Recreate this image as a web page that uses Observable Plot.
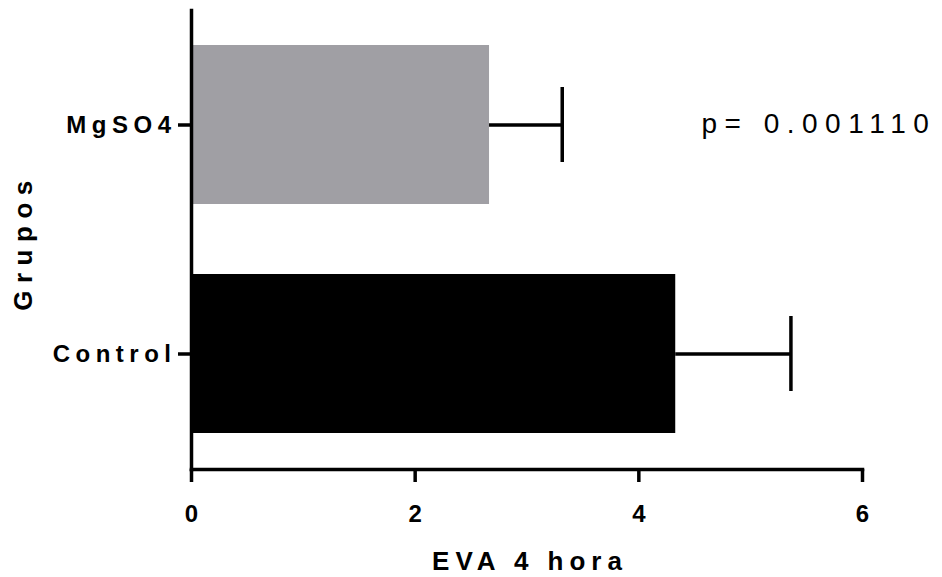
<!DOCTYPE html>
<html>
<head>
<meta charset="utf-8">
<script src="https://cdn.jsdelivr.net/npm/d3@7"></script>
<script src="https://cdn.jsdelivr.net/npm/@observablehq/plot@0.6"></script>
<style>
  body { margin: 0; background: #fff; }
  #chart svg { display: block; }
  g[aria-label="y-axis tick label"] text { letter-spacing: 5.5px; }
</style>
</head>
<body>
<div id="chart"></div>
<script>
// Pain score (EVA) at 4 hours, mean and SD by group
const groups = ["MgSO4", "Control"];
const means = [2.665, 4.33];
const sds = [0.65, 1.03];
const barColors = ["#a09fa4", "#000000"];
const xTicks = [0, 2, 4, 6];
const xTitle = "EVA 4 hora";
const yTitle = "Grupos";
const pValueText = "p= 0.001110";
const pValueX = 4.56; // where the p-value note starts, in EVA units

const rows = groups.map((g, i) => ({
  group: g,
  mean: means[i],
  upper: means[i] + sds[i]
}));

const font = "'Liberation Sans', Arial, Helvetica, sans-serif";
const lw = 3.5;

const chart = Plot.plot({
  width: 942,
  height: 577,
  marginLeft: 191,
  marginRight: 80,
  marginTop: 10,
  marginBottom: 108,
  style: { fontFamily: font, background: "#fff", color: "#000", overflow: "visible" },
  x: { domain: [0, 6] },
  y: { domain: groups, paddingInner: 0.304, paddingOuter: 0.152 },
  color: { domain: groups, range: barColors },
  marks: [
    Plot.barX(rows, { y: "group", x: "mean", fill: "group" }),
    // error bars: whisker and cap
    Plot.ruleY(rows, { y: "group", x1: "mean", x2: "upper", stroke: "#000", strokeWidth: lw }),
    Plot.tickX(rows, { x: "upper", y: "group", stroke: "#000", strokeWidth: lw, insetTop: 42, insetBottom: 42 }),
    // axis lines
    Plot.frame({ anchor: "left", stroke: "#000", strokeWidth: lw }),
    Plot.frame({ anchor: "bottom", stroke: "#000", strokeWidth: lw }),
    Plot.axisX({
      ticks: xTicks, tickFormat: d3.format("d"), tickSize: 13, tickPadding: 22,
      strokeWidth: lw, fontSize: 24, fontWeight: "bold", label: null
    }),
    Plot.axisY({
      tickSize: 13, tickPadding: 2, strokeWidth: lw,
      fontSize: 24, fontWeight: "bold", label: null
    }),
    // axis titles
    Plot.text([xTitle], {
      frameAnchor: "bottom", text: d => d, dy: 100, dx: 3, lineAnchor: "bottom",
      fontSize: 26, fontWeight: "bold"
    }),
    Plot.text([yTitle], {
      frameAnchor: "left", text: d => d, rotate: -90, textAnchor: "middle",
      dx: -178, dy: 2, lineAnchor: "top",
      fontSize: 26, fontWeight: "bold"
    }),
    // significance note
    Plot.text([{ label: pValueText, group: groups[0], x: pValueX }], {
      x: "x", y: "group", text: "label", textAnchor: "start",
      fontSize: 28, dy: -1
    })
  ]
});

// widen the tracking of the titles and the note
const spacing = ["6px", "7.5px", "7.5px"];
d3.select(chart).selectAll('g[aria-label="text"]')
  .each(function (_, i) {
    d3.select(this).selectAll("text").style("letter-spacing", spacing[i]);
  });

document.getElementById("chart").append(chart);
</script>
</body>
</html>
